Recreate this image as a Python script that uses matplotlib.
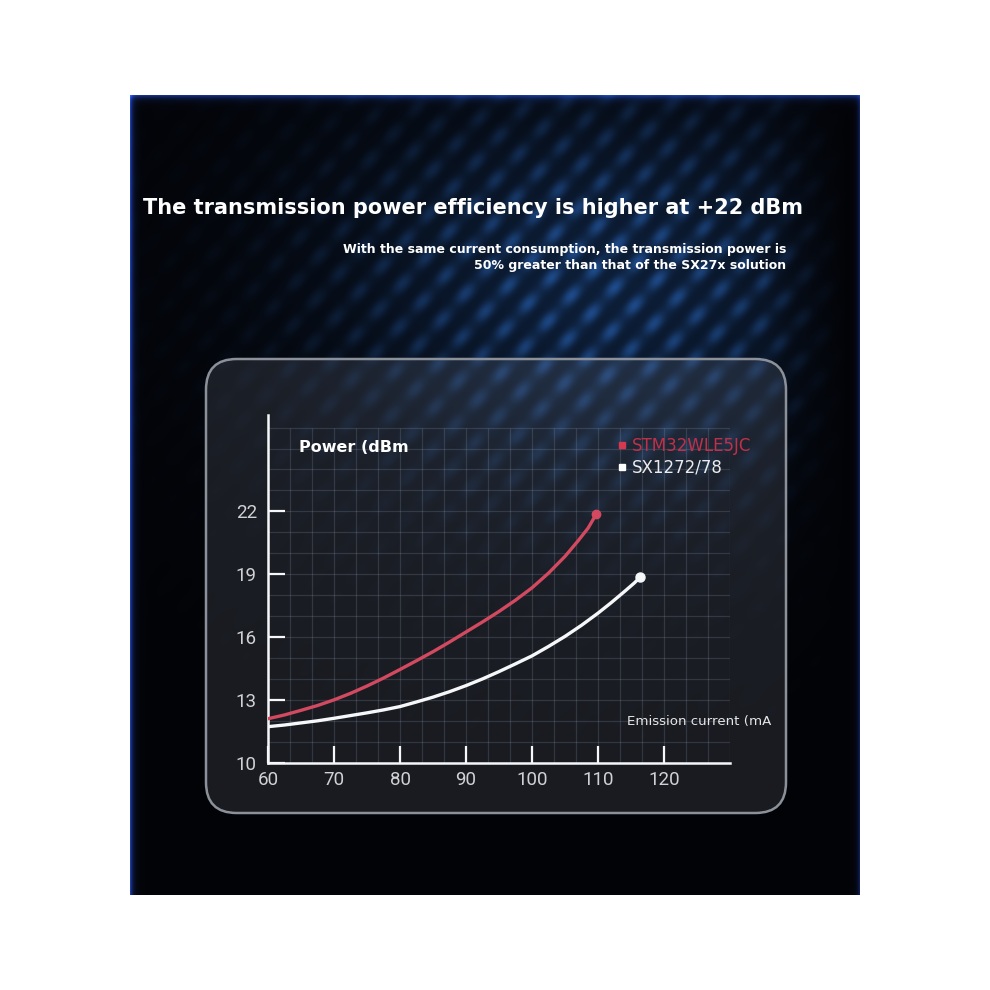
import numpy as np
import matplotlib
matplotlib.use("Agg")
import matplotlib.pyplot as plt
from matplotlib.patches import FancyBboxPatch
from matplotlib.lines import Line2D

# values
stm_current = [60, 62.5, 65, 67.5, 70, 72.5, 75, 77.5, 80, 82.5, 85, 87.5, 90, 92.5,
               95, 97.5, 100, 102.5, 105, 107, 108.5, 109.7]
stm_power = [12.1, 12.28, 12.5, 12.73, 13.0, 13.31, 13.66, 14.04, 14.45, 14.87, 15.3, 15.76,
             16.24, 16.72, 17.22, 17.76, 18.35, 19.05, 19.85, 20.6, 21.2, 21.85]
sx_current = [60, 62.5, 65, 67.5, 70, 72.5, 75, 77.5, 80, 82.5, 85, 87.5, 90, 92.5, 95,
              97.5, 100, 102.5, 105, 107.5, 110, 112, 114, 115.5, 116.4]
sx_power = [11.72, 11.8, 11.9, 12.0, 12.12, 12.25, 12.38, 12.52, 12.68, 12.9, 13.13, 13.39,
            13.68, 14.0, 14.35, 14.72, 15.1, 15.55, 16.03, 16.56, 17.14, 17.64, 18.17, 18.58, 18.86]
series_names = ['STM32WLE5JC', 'SX1272/78']
x_ticks = [60, 70, 80, 90, 100, 110, 120]
y_ticks = [10, 13, 16, 19, 22]

RED = '#d6384f'
W = 990.0

fig = plt.figure(figsize=(9.9, 9.9), dpi=100, facecolor='white')


def fit_width(t, target_px):
    r = fig.canvas.get_renderer()
    w = t.get_window_extent(r).width
    t.set_fontsize(t.get_fontsize() * target_px / w)
    return t.get_fontsize()


# dark blue backdrop with soft diagonal streaks (decoration only)
bg = fig.add_axes([130 / W, 1 - 895 / W, 730 / W, 800 / W])
bg.set_axis_off()
yy, xx = np.mgrid[0:800, 0:730].astype(float)
stripes = (0.5 + 0.5 * np.sin(2 * np.pi * (xx + 0.9 * yy) / 36.0)) ** 1.5
blobs = 0.65 + 0.35 * np.sin(2 * np.pi * (xx - 1.1 * yy) / 52.0)
env = np.exp(-(((xx - 470) / 260.0) ** 2 + ((yy - 190) / 185.0) ** 2))
env *= np.clip((715 - xx) / 80.0, 0, 1)
glow = stripes * blobs * env * 0.5 + env * 0.28
img = np.zeros((800, 730, 3))
img[:] = np.array([0.01, 0.015, 0.03])
img += glow[..., None] * np.array([0.14, 0.36, 0.66])
# thin blue rims
rim = np.exp(-(xx / 2.5)) + np.exp(-(yy / 3.0)) * 0.8 + np.exp(-((729 - xx) / 2.0)) * 0.5
img += rim[..., None] * np.array([0.10, 0.22, 0.62])
img = np.clip(img, 0, 1)
bg.imshow(img, extent=[0, 1, 0, 1], aspect='auto', interpolation='bilinear')

# translucent rounded panel
panel = FancyBboxPatch((206 / W, 1 - 813 / W), 580 / W, 454 / W,
                       boxstyle='round,pad=0,rounding_size=0.031',
                       transform=fig.transFigure,
                       facecolor=(0.72, 0.76, 0.84, 0.13),
                       edgecolor=(0.55, 0.57, 0.60, 1.0), linewidth=1.8)
fig.patches.append(panel)

# titles
title = fig.text(473 / W, 1 - 208 / W, 'The transmission power efficiency is higher at +22 dBm',
                 ha='center', va='center', color='white', fontsize=16, fontweight='bold',
                 family='DejaVu Sans')
fit_width(title, 660)
sub1 = fig.text(786 / W, 1 - 249 / W, 'With the same current consumption, the transmission power is',
                ha='right', va='center', color='white', fontsize=9, fontweight='bold',
                family='DejaVu Sans')
size = fit_width(sub1, 443)
fig.text(786 / W, 1 - 266 / W, '50% greater than that of the SX27x solution',
         ha='right', va='center', color='white', fontsize=size, fontweight='bold',
         family='DejaVu Sans')

# chart
ax = fig.add_axes([268 / W, 1 - 762.7 / W, 462 / W, 347.7 / W])
ax.set_facecolor('none')
ax.set_xlim(60, 130)
ax.set_ylim(10, 26.6)

grid_col = (0.62, 0.67, 0.76, 0.19)
ax.vlines(np.arange(60 + 10 / 3, 130.01, 10 / 3), 10, 26, color=grid_col, lw=0.9, zorder=1)
ax.hlines(np.arange(11, 26.01, 1), 60, 130, color=grid_col, lw=0.9, zorder=1)

ax.plot(sx_current, sx_power, color='white', lw=2.4, solid_capstyle='round',
        solid_joinstyle='round', zorder=3)
ax.plot(stm_current, stm_power, color=RED, lw=2.4, solid_capstyle='round',
        solid_joinstyle='round', zorder=3)
ax.plot(sx_current[-1], sx_power[-1], 'o', color='white', ms=6.5, zorder=4)
ax.plot(stm_current[-1], stm_power[-1], 'o', color=RED, ms=6, zorder=4)

for s in ['top', 'right']:
    ax.spines[s].set_visible(False)
for s in ['left', 'bottom']:
    ax.spines[s].set_color('white')
    ax.spines[s].set_linewidth(1.8)

ax.set_xticks(x_ticks)
ax.set_yticks(y_ticks)
ax.set_xticklabels([str(v) for v in x_ticks])
ax.set_yticklabels([str(v) for v in y_ticks])
ax.tick_params(axis='both', direction='in', length=12, width=1.6, color='white',
               labelcolor='#d4d4d4', labelsize=13.5)
ax.tick_params(axis='x', pad=6)
ax.tick_params(axis='y', pad=8)
for lab in ax.get_xticklabels() + ax.get_yticklabels():
    lab.set_family('Roboto')

fig.text(299 / W, 1 - 447 / W, 'Power (dBm', ha='left', va='center', color='white',
         fontsize=11.5, fontweight='bold', family='DejaVu Sans')
fig.text(627 / W, 1 - 721 / W, 'Emission current (mA', ha='left', va='center',
         color='#e6e6e6', fontsize=9.6, family='DejaVu Sans')

handles = [Line2D([], [], ls='none', marker='s', ms=5, color=RED),
           Line2D([], [], ls='none', marker='s', ms=5, color='white')]
leg = fig.legend(handles, series_names, loc='center left',
                 bbox_to_anchor=(609 / W, 1 - 457 / W), frameon=False,
                 handlelength=0.5, handletextpad=0.35, labelspacing=0.22,
                 borderpad=0, prop={'family': 'DejaVu Sans', 'size': 12})
leg.get_texts()[0].set_color('#c03149')
leg.get_texts()[1].set_color('#ececec')

fig.savefig('out.png', dpi=100, facecolor='white')
